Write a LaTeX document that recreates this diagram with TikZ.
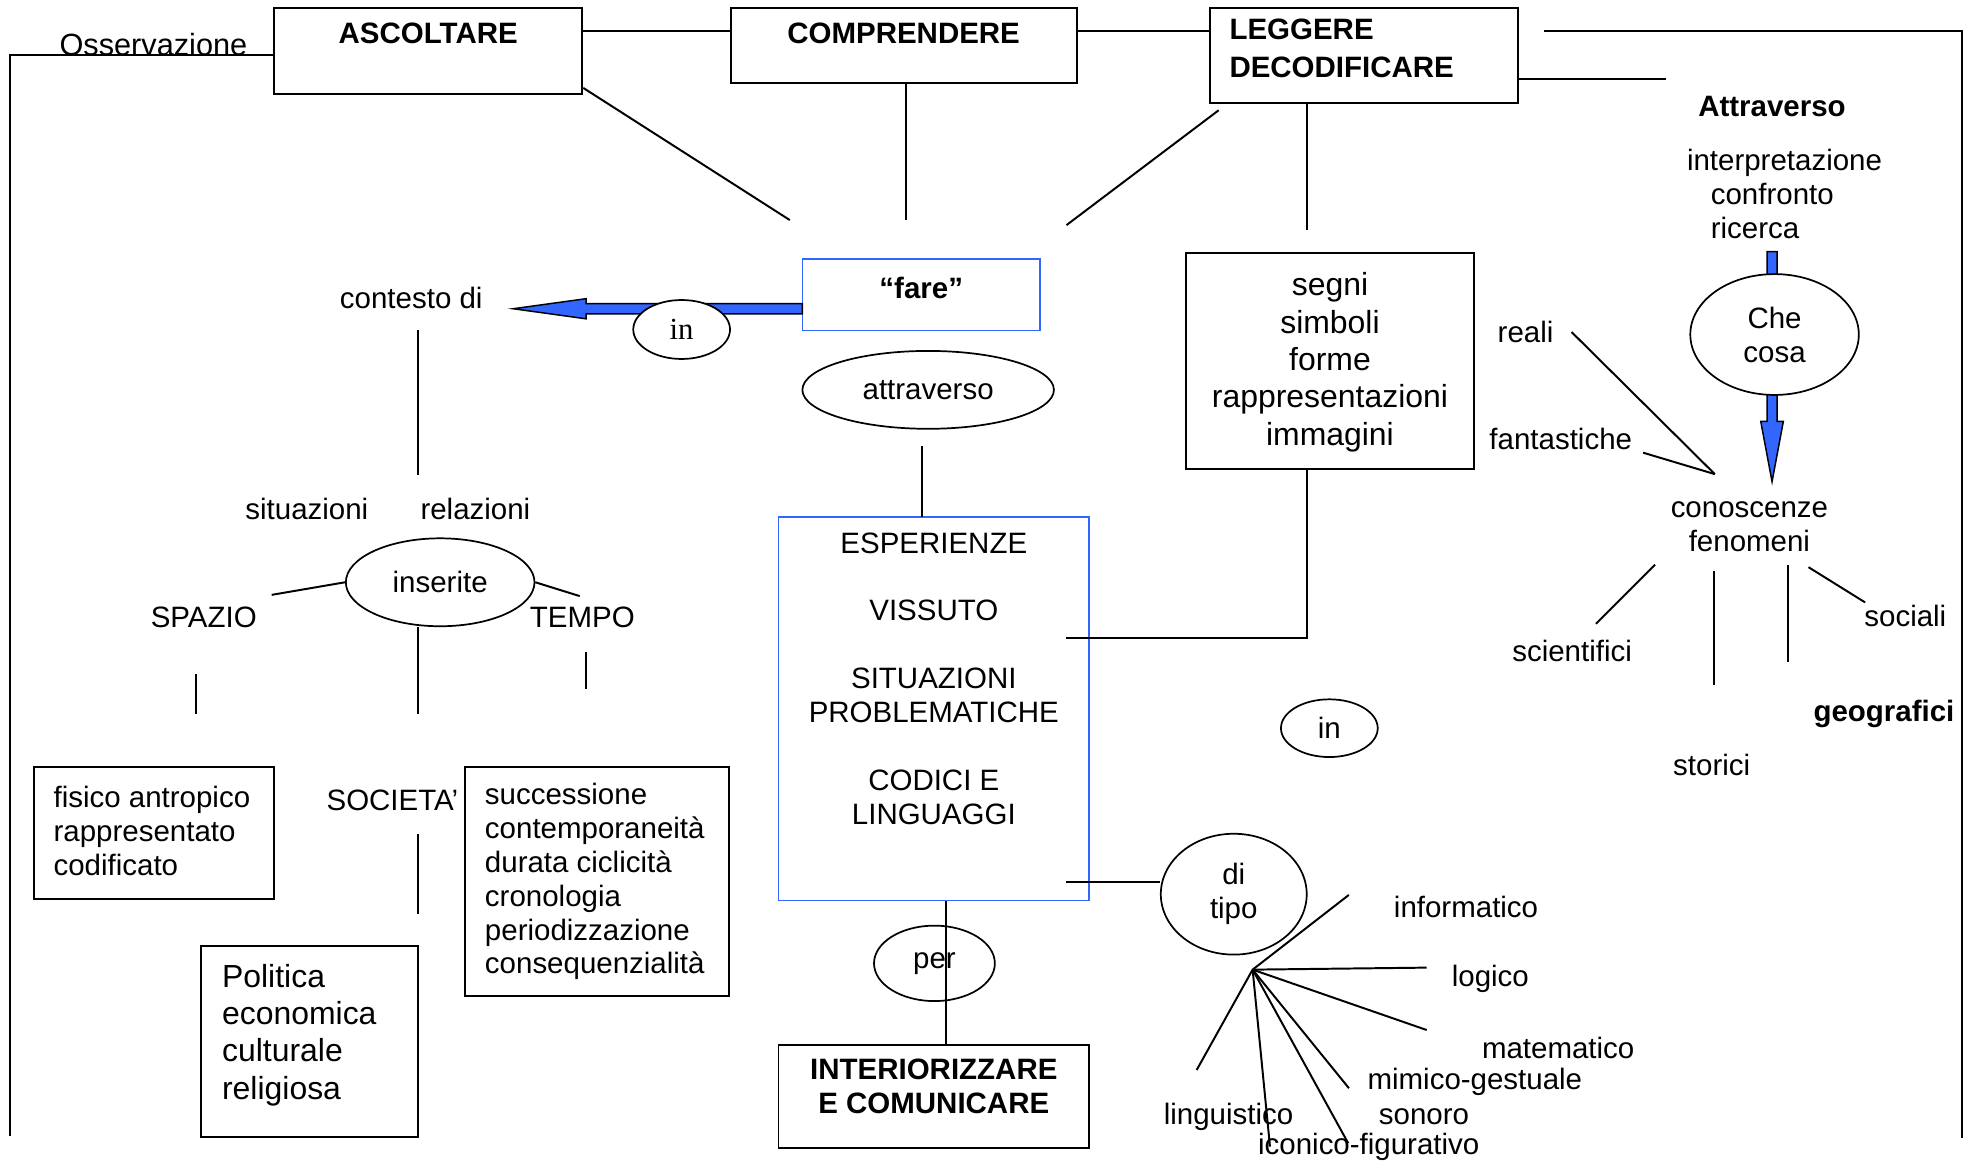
\documentclass[tikz,border=0pt]{standalone}
\usepackage{fontspec}
\setmainfont{Liberation Sans}
\newfontfamily\serifin{Liberation Serif}
\usepackage{tikz}
\usetikzlibrary{shapes.geometric,positioning,fit}
\definecolor{azzurro}{RGB}{51,102,255}
\tikzstyle{testo} = [inner sep=0pt, font=\fontsize{12}{13.8}\selectfont]
\tikzstyle{testogrande} = [inner sep=0pt, font=\fontsize{13}{15.2}\selectfont]
\tikzstyle{titolo} = [inner sep=0pt, font=\fontsize{12}{13.8}\selectfont\bfseries]
\tikzstyle{casella} = [draw, rectangle, inner sep=0pt, line width=0.8pt]
\tikzstyle{casellablu} = [draw=azzurro, rectangle, inner sep=0pt, line width=0.6pt]
\tikzstyle{ovale} = [draw, ellipse, fill=white, inner sep=0pt, line width=0.7pt, font=\fontsize{12}{13.8}\selectfont]
\tikzstyle{freccia} = [draw=black, fill=azzurro, line width=0.6pt, line join=miter]
\tikzstyle{linea} = [line width=0.8pt]

\begin{document}
\begin{tikzpicture}[x=0.512pt, y=-0.512pt]
\useasboundingbox (0,0) rectangle (1568,927);

% caselle in alto
\node[casella, fit={(218,6) (463,75)}] (ascoltare) {};
\node[titolo, below=6.4pt] (tAscoltare) at (ascoltare.north) {ASCOLTARE};
\node[casella, fit={(581,6) (856,66)}] (comprendere) {};
\node[titolo, below=6.4pt] (tComprendere) at (comprendere.north) {COMPRENDERE};
\node[casella, fit={(962,6) (1207,82)}] (leggere) {};
\node[titolo, align=left, anchor=north west, xshift=8.2pt, yshift=-4.9pt] (tLeggere) at (leggere.north west) {LEGGERE\\[1.6pt]DECODIFICARE};
\node[testo, font=\fontsize{12.5}{14}\selectfont, anchor=base] (osservazione) at (122,44) {Osservazione};

% caselle centrali
\node[casellablu, fit={(638,206) (827,263)}] (fare) {};
\node[titolo, below=7.4pt] (tFare) at (fare.north) {“fare”};
\node[casella, fit={(943,201) (1172,373)}] (segni) {};
\node[testogrande, align=center, yshift=-0.5pt] (tSegni) at (segni.center) {segni\\simboli\\forme\\rappresentazioni\\immagini};
\node[casellablu, fit={(619,411) (866,716)}] (esperienze) {};
\node[testo, align=center, below=6.5pt] (tEsperienze) at (esperienze.north) {ESPERIENZE\\[13.8pt]VISSUTO\\[13.8pt]SITUAZIONI\\PROBLEMATICHE\\[13.8pt]CODICI E\\LINGUAGGI};
\node[casella, fit={(619,831) (866,913)}] (interiorizzare) {};
\node[titolo, align=center, below=5.9pt] (tInteriorizzare) at (interiorizzare.north) {INTERIORIZZARE\\E COMUNICARE};

% caselle a sinistra
\node[casella, fit={(27,610) (218,715)}] (fisico) {};
\node[testo, align=left, right=8.2pt, yshift=0.8pt] (tFisico) at (fisico.west) {fisico antropico\\rappresentato\\codificato};
\node[casella, fit={(370,610) (580,792)}] (successione) {};
\node[testo, align=left, right=8.2pt] (tSuccessione) at (successione.west) {successione\\contemporaneità\\durata ciclicità\\cronologia\\periodizzazione\\consequenzialità};
\node[casella, fit={(160,752) (332,904)}] (politica) {};
\node[testogrande, align=left, right=8.7pt, yshift=2.6pt] (tPolitica) at (politica.west) {Politica\\economica\\culturale\\religiosa};

% etichette libere
\node[testo] (contesto) at (327,237) {contesto di};
\node[testo] (situazioni) at (244,405) {situazioni};
\node[testo] (relazioni) at (378,405) {relazioni};
\node[testo] (spazio) at (162,491) {SPAZIO};
\node[testo] (tempo) at (463,491) {TEMPO};
\node[testo] (societa) at (312,636) {SOCIETA’};
\node[titolo] (tAttraverso) at (1409,85) {Attraverso};
\node[testo, align=left, anchor=west] (interpretazione) at (1341,154) {interpretazione\\\hspace*{9.7pt}confronto\\\hspace*{9.7pt}ricerca};
\node[testo] (reali) at (1213,264) {reali};
\node[testo] (fantastiche) at (1241,349) {fantastiche};
\node[testo, align=center] (conoscenze) at (1391,419) {conoscenze\\fenomeni};
\node[testo] (scientifici) at (1250,518) {scientifici};
\node[testo] (storici) at (1361,608) {storici};
\node[titolo] (geografici) at (1498,568) {geografici};
\node[testo] (sociali) at (1515,490) {sociali};
\node[testo, anchor=west] (informatico) at (1108,721) {informatico};
\node[testo, anchor=west] (logico) at (1154,778) {logico};
\node[testo, anchor=west] (matematico) at (1178,833) {matematico};
\node[testo, anchor=west] (mimico) at (1087,860) {mimico-gestuale};
\node[testo, anchor=west] (sonoro) at (1096,888) {sonoro};
\node[testo, anchor=west] (linguistico) at (925,888) {linguistico};
\node[testo, anchor=west] (iconico) at (1000,912) {iconico-figurativo};

% estremi liberi dei collegamenti
\coordinate (bordoSx) at (8,903);
\coordinate (bordoDx) at (1560,905);
\coordinate (rigaTop) at (0,25);
\coordinate (destraTop) at (1228,25);
\coordinate (leggereFuori) at (1325,63);
\coordinate (fareA) at (628,175);
\coordinate (fareB) at (720,175);
\coordinate (fareC) at (848,179);
\coordinate (segniA) at (1039,183);
\coordinate (puntaContesto) at (408,245.5);
\coordinate (ctxB) at (332,378);
\coordinate (espA) at (733,411);
\coordinate (vissutoA) at (848,507);
\coordinate (linguaggiA) at (848,701);
\coordinate (assePer) at (752,766);
\coordinate (spazioA) at (216,473);
\coordinate (tempoA) at (461,474);
\coordinate (societaA) at (332,568);
\coordinate (fisicoA) at (156,568);
\coordinate (successioneA) at (466,548);
\coordinate (politicaA) at (332,727);
\coordinate (puntaConoscenze) at (1409,383);
\coordinate (confluenza) at (1363.5,377);
\coordinate (fan) at (996,771);

% cornice e collegamenti in alto
\draw[linea] (ascoltare.west |- osservazione.base) -| (bordoSx);
\draw[linea] (ascoltare.east |- rigaTop) -- (comprendere.west |- rigaTop);
\draw[linea] (comprendere.east |- rigaTop) -- (leggere.west |- rigaTop);
\draw[linea] (destraTop) -| (bordoDx);
\draw[linea] (leggere.east |- leggereFuori) -- (leggereFuori);
\draw[linea] ([yshift=3pt]ascoltare.south east) -- (fareA);
\draw[linea] (comprendere.south -| fareB) -- (fareB);
\draw[linea] ([shift={(4pt,-2.5pt)}]leggere.south west) -- (fareC);
\draw[linea] (leggere.south -| segniA) -- (segniA);

% frecce blu
\filldraw[freccia] (puntaContesto) -- ++(58,-8) -- ++(0,4) -- ++(172,0) -- ++(0,8) -- ++(-172,0) -- ++(0,4) -- cycle;
\filldraw[freccia] (puntaConoscenze) -- ++(9,-48) -- ++(-5,0) -- ++(0,-135) -- ++(-8,0) -- ++(0,135) -- ++(-5,0) -- cycle;

% ovali
\node[ovale, minimum width=39.4pt, minimum height=24pt, font=\serifin\fontsize{12.5}{14}\selectfont] (in1) at (542,262) {in};
\node[ovale, minimum width=102.4pt, minimum height=31.7pt] (attraverso) at (738,310) {attraverso};
\node[ovale, minimum width=76.8pt, minimum height=35.8pt] (inserite) at (350,463) {inserite};
\node[ovale, minimum width=68.6pt, minimum height=49.2pt, align=center] (checosa) at (1411,266) {Che\\cosa};
\node[ovale, minimum width=39.4pt, minimum height=23.5pt] (in2) at (1057,579) {in};
\node[ovale, minimum width=59.4pt, minimum height=49.2pt, align=center] (ditipo) at (981,711) {di\\tipo};
\node[ovale, minimum width=49.2pt, minimum height=30.7pt] (per) at (743,766) {per};

% collegamenti al centro
\draw[linea, shorten <=8.5pt] (contesto.south -| ctxB) -- (ctxB);
\draw[linea, shorten <=6.7pt] (attraverso.south -| espA) -- (espA);
\draw[linea] (vissutoA) -| (segni.south -| segniA);
\draw[linea] (linguaggiA) -- (linguaggiA -| ditipo.west);
\draw[linea] (esperienze.south -| assePer) -- (interiorizzare.north -| assePer);

% collegamenti a sinistra
\draw[linea] (inserite.west) -- (spazioA);
\draw[linea] (inserite.east) -- (tempoA);
\draw[linea] (inserite.south -| societaA) -- (societaA);
\draw[linea, shorten <=18.6pt] (spazio.south -| fisicoA) -- (fisicoA);
\draw[linea, shorten <=9.4pt] (tempo.south -| successioneA) -- (successioneA);
\draw[linea, shorten <=9.5pt] (societa.south -| politicaA) -- (politicaA);

% collegamenti a destra
\draw[linea] ([xshift=7.2pt]reali.east) -- (confluenza);
\draw[linea] ([shift={(4.3pt,-5.6pt)}]fantastiche.east) -- (confluenza);
\foreach \xa/\ya/\xb/\yb [count=\i] in {1316/449/1269/496, 1363/454/1363/545, 1422/449/1422/526, 1438/451/1483/479} {
  \coordinate (ramoA\i) at (\xa,\ya);
  \coordinate (ramoB\i) at (\xb,\yb);
  \draw[linea] (ramoA\i) -- (ramoB\i);
}
\foreach \xr/\yr [count=\i] in {1072.5/711.6, 1134.4/769.4, 1134.4/819, 1072.6/865.3, 1072/909, 1009.8/911.7, 951.5/850.8} {
  \coordinate (raggio\i) at (\xr,\yr);
  \draw[linea] (fan) -- (raggio\i);
}
\end{tikzpicture}
\end{document}
